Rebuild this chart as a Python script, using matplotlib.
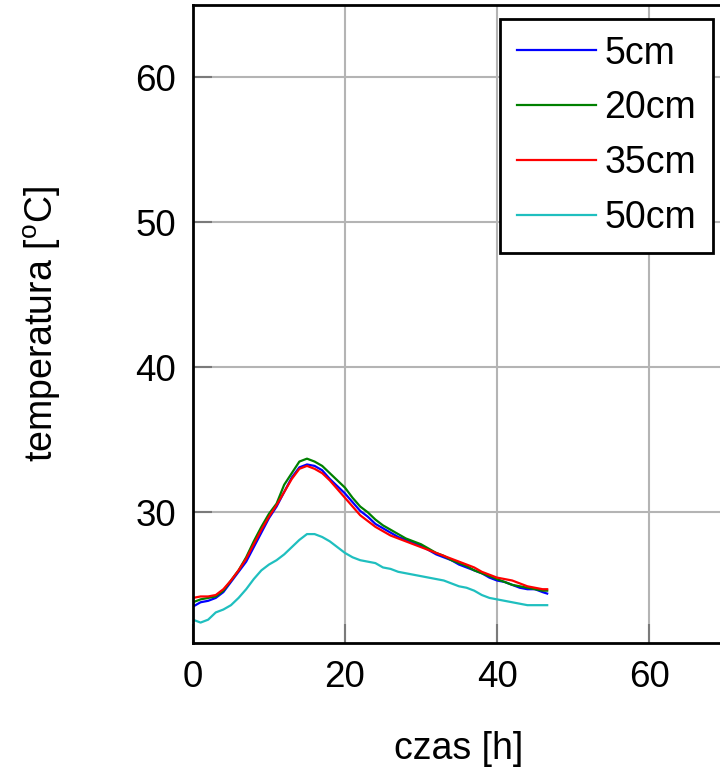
import matplotlib
matplotlib.use("Agg")
import matplotlib.pyplot as plt

plt.rcParams["font.family"] = ["Liberation Sans", "DejaVu Sans"]
plt.rcParams["mathtext.default"] = "regular"

# czas pomiaru [h]
czas = list(range(47)) + [46.6]

t_5cm = [23.5, 23.8, 23.9, 24.1, 24.5, 25.2, 25.9, 26.6, 27.6, 28.6,
         29.6, 30.4, 31.4, 32.4, 33.1, 33.3, 33.2, 32.9, 32.3, 31.8,
         31.3, 30.7, 30.1, 29.7, 29.2, 28.9, 28.6, 28.3, 28.1, 27.9,
         27.7, 27.4, 27.1, 26.9, 26.7, 26.4, 26.2, 26.0, 25.8, 25.5,
         25.3, 25.2, 25.0, 24.8, 24.7, 24.7, 24.5, 24.4]
t_20cm = [23.8, 24.0, 24.1, 24.2, 24.6, 25.3, 26.0, 26.9, 28.0, 29.0,
          29.9, 30.6, 31.9, 32.7, 33.5, 33.7, 33.5, 33.2, 32.7, 32.2,
          31.7, 31.0, 30.4, 30.0, 29.5, 29.1, 28.8, 28.5, 28.2, 28.0,
          27.8, 27.5, 27.2, 27.0, 26.7, 26.5, 26.3, 26.0, 25.8, 25.6,
          25.4, 25.2, 25.0, 24.9, 24.8, 24.7, 24.6, 24.6]
t_35cm = [24.1, 24.2, 24.2, 24.3, 24.7, 25.3, 26.0, 26.8, 27.8, 28.8,
          29.7, 30.5, 31.4, 32.3, 33.0, 33.2, 33.0, 32.7, 32.2, 31.6,
          31.0, 30.4, 29.8, 29.4, 29.0, 28.7, 28.4, 28.2, 28.0, 27.8,
          27.6, 27.4, 27.2, 27.0, 26.8, 26.6, 26.4, 26.2, 25.9, 25.7,
          25.5, 25.4, 25.3, 25.1, 24.9, 24.8, 24.7, 24.7]
t_50cm = [22.6, 22.4, 22.6, 23.1, 23.3, 23.6, 24.1, 24.7, 25.4, 26.0,
          26.4, 26.7, 27.1, 27.6, 28.1, 28.5, 28.5, 28.3, 28.0, 27.6,
          27.2, 26.9, 26.7, 26.6, 26.5, 26.2, 26.1, 25.9, 25.8, 25.7,
          25.6, 25.5, 25.4, 25.3, 25.1, 24.9, 24.8, 24.6, 24.3, 24.1,
          24.0, 23.9, 23.8, 23.7, 23.6, 23.6, 23.6, 23.6]

serie = [("5cm", t_5cm, "#0000ff"),
         ("20cm", t_20cm, "#008000"),
         ("35cm", t_35cm, "#ff0000"),
         ("50cm", t_50cm, "#1fbfbf")]

fig = plt.figure(figsize=(7.2, 7.69), dpi=100)
ax = fig.add_axes([0.268, 0.164, 0.739, 0.83])

for nazwa, temp, kolor in serie:
    ax.plot(czas, temp, color=kolor, lw=1.6, label=nazwa)

ax.set_xlim(0, 70)
ax.set_ylim(21, 65)
ax.set_xticks([0, 20, 40, 60])
ax.set_yticks([30, 40, 50, 60])
ax.grid(True, color="#b4b4b4", lw=1.5)
ax.tick_params(direction="in", length=14, width=1.5, color="#7a7a7a",
               labelsize=26.5, pad=12)
for s in ax.spines.values():
    s.set_linewidth(2)

ax.set_xlabel("czas [h]", fontsize=27, labelpad=26)
ax.set_ylabel("temperatura [$^o$C]", fontsize=27, labelpad=52)

leg = ax.legend(loc="upper right", bbox_to_anchor=(0.977, 0.978),
                borderaxespad=0, fontsize=27, fancybox=False, framealpha=1,
                edgecolor="black", handlelength=2.1, handletextpad=0.22,
                labelspacing=0.5, borderpad=0.45)
leg.get_frame().set_linewidth(2)

fig.savefig("out.png", dpi=100)
